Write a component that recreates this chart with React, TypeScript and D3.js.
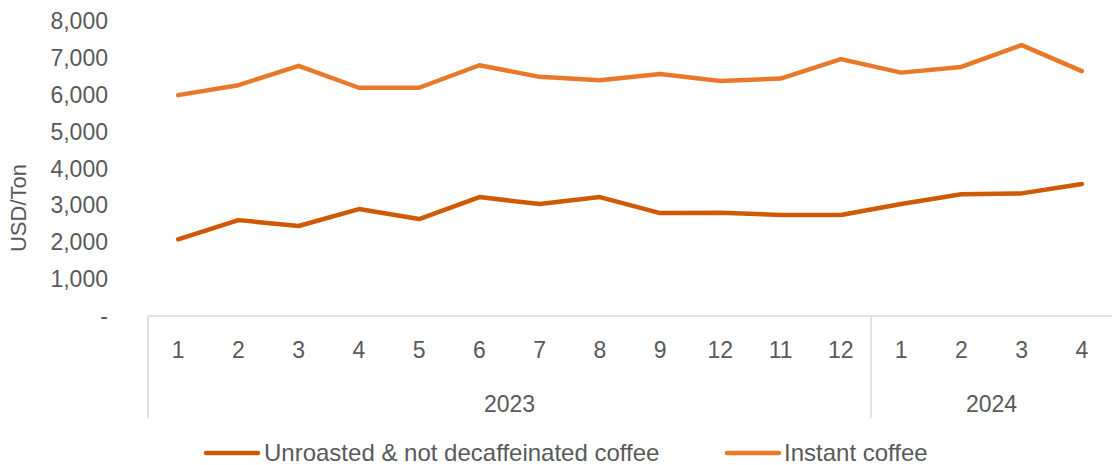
import * as d3 from "d3";
import { useEffect, useRef } from "react";

// month labels as printed on the axis (the second "12" is in the source)
const months = ["1", "2", "3", "4", "5", "6", "7", "8", "9", "12", "11", "12", "1", "2", "3", "4"];
const years = [
  { label: "2023", count: 12 },
  { label: "2024", count: 4 },
];
const unroasted = [2080, 2600, 2440, 2900, 2630, 3225, 3035, 3225, 2790, 2800, 2740, 2740, 3035, 3300, 3325, 3577];
const instant = [5990, 6260, 6785, 6190, 6190, 6800, 6485, 6395, 6560, 6375, 6440, 6965, 6600, 6755, 7345, 6640];
const yTicks = [0, 1000, 2000, 3000, 4000, 5000, 6000, 7000, 8000];

const series = [
  { name: "Unroasted & not decaffeinated coffee", values: unroasted, color: "#CF5A06" },
  { name: "Instant coffee", values: instant, color: "#E8792A" },
];

const width = 1112;
const height = 465;
const textColor = "#595959";
const font = "'Liberation Sans', Arial, sans-serif";

const App = () => {
  const ref = useRef<SVGSVGElement | null>(null);

  useEffect(() => {
    const svg = d3.select(ref.current);
    svg.selectAll("*").remove();

    const x = d3
      .scaleBand<number>()
      .domain(months.map((_, i) => i))
      .range([148, 1112]);
    const y = d3.scaleLinear().domain([0, 8000]).range([316, 21]);
    const cx = (i: number) => (x(i) as number) + x.bandwidth() / 2;

    // y tick labels
    svg
      .append("g")
      .selectAll("text")
      .data(yTicks)
      .join("text")
      .attr("x", 108)
      .attr("y", (d) => y(d))
      .attr("dy", "0.35em")
      .attr("text-anchor", "end")
      .attr("font-family", font)
      .attr("font-size", 23)
      .attr("fill", textColor)
      .text((d) => (d === 0 ? "-" : d3.format(",")(d)));

    svg
      .append("text")
      .attr("transform", "translate(26,208) rotate(-90)")
      .attr("text-anchor", "middle")
      .attr("font-family", font)
      .attr("font-size", 22)
      .attr("fill", textColor)
      .text("USD/Ton");

    // x axis line and group separators
    const axis = svg.append("g").attr("stroke", "#D9D9D9").attr("stroke-width", 1.5);
    axis.append("line").attr("x1", 148).attr("x2", 1112).attr("y1", 316).attr("y2", 316);
    let start = 0;
    const bounds = [0];
    years.forEach((yr) => {
      start += yr.count;
      if (start < months.length) bounds.push(start);
    });
    bounds.forEach((b) => {
      const bx = x(b) as number;
      axis.append("line").attr("x1", bx).attr("x2", bx).attr("y1", 316).attr("y2", 418);
    });

    svg
      .append("g")
      .selectAll("text")
      .data(months)
      .join("text")
      .attr("x", (_, i) => cx(i))
      .attr("y", 358)
      .attr("text-anchor", "middle")
      .attr("font-family", font)
      .attr("font-size", 23)
      .attr("fill", textColor)
      .text((d) => d);

    let offset = 0;
    years.forEach((yr) => {
      const x0 = x(offset) as number;
      const x1 = offset + yr.count < months.length ? (x(offset + yr.count) as number) : 1112;
      svg
        .append("text")
        .attr("x", (x0 + x1) / 2)
        .attr("y", 412)
        .attr("text-anchor", "middle")
        .attr("font-family", font)
        .attr("font-size", 23)
        .attr("fill", textColor)
        .text(yr.label);
      offset += yr.count;
    });

    // lines
    const line = d3
      .line<number>()
      .x((_, i) => cx(i))
      .y((d) => y(d));
    series.forEach((s) => {
      svg
        .append("path")
        .datum(s.values)
        .attr("d", line)
        .attr("fill", "none")
        .attr("stroke", s.color)
        .attr("stroke-width", 4.5)
        .attr("stroke-linejoin", "round")
        .attr("stroke-linecap", "round");
    });

    // legend
    const legendPos = [
      { lx: 206, tx: 264 },
      { lx: 727, tx: 784 },
    ];
    series.forEach((s, i) => {
      const g = svg.append("g");
      g.append("line")
        .attr("x1", legendPos[i].lx)
        .attr("x2", legendPos[i].lx + 52)
        .attr("y1", 453)
        .attr("y2", 453)
        .attr("stroke", s.color)
        .attr("stroke-width", 4.5)
        .attr("stroke-linecap", "round");
      g.append("text")
        .attr("x", legendPos[i].tx)
        .attr("y", 453)
        .attr("dy", "0.35em")
        .attr("font-family", font)
        .attr("font-size", 24)
        .attr("fill", textColor)
        .text(s.name);
    });
  }, []);

  return (
    <div style={{ position: "absolute", left: 0, top: 0 }}>
      <svg ref={ref} width={width} height={height} style={{ display: "block", background: "#fff" }} />
    </div>
  );
};

export default App;
